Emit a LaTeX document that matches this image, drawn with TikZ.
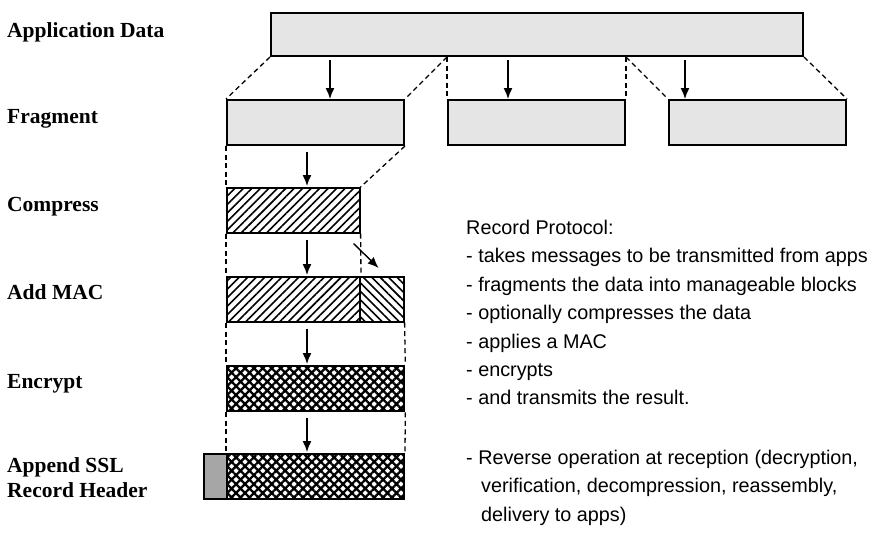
\documentclass[tikz,border=0pt]{standalone}
\usepackage{fontspec}
\setmainfont{Liberation Serif}
\newfontfamily\notefont{Liberation Sans}
\usetikzlibrary{arrows.meta,patterns.meta}

\begin{document}
\begin{tikzpicture}[x=1pt,y=-1pt,
    blk/.style={draw, line width=2pt, inner sep=0pt, anchor=north west, minimum height=45pt},
    plainblk/.style={blk, fill=black!10},
    cut/.style={dash pattern=on 5pt off 3.5pt, line width=1.3pt},
    arr/.style={-{Latex[length=11pt,width=9pt]}, line width=1.4pt},
    lbl/.style={anchor=base west, inner sep=0pt, align=left,
      font=\fontsize{21.5}{25}\selectfont\bfseries},
    note/.style={anchor=north west, inner sep=0pt, align=left,
      font=\notefont\fontsize{19.8}{28.4}\selectfont}]
  \useasboundingbox (0,0) rectangle (881,542);
  \def\Xs{307}; % spine of arrows

  % application data and fragments
  \node[plainblk, minimum width=532pt, minimum height=43pt] (app) at (270,12) {};
  \node[plainblk, minimum width=177pt] (frag1) at (226,99) {};
  \node[plainblk, minimum width=177pt] (frag2) at (447,99) {};
  \node[plainblk, minimum width=177pt] (frag3) at (668,99) {};

  % compressed, MAC, encrypted, record
  \node[blk, minimum width=133pt, pattern={Lines[angle=45,distance=6pt,line width=1.6pt]}] (comp) at (226,187) {};
  \node[blk, minimum width=133pt, pattern={Lines[angle=45,distance=6pt,line width=1.6pt]}] (mac1) at (226,276) {};
  \node[blk, minimum width=44pt, pattern={Lines[angle=-45,distance=6pt,line width=1.6pt]}] (mac2) at (359,276) {};
  \node[blk, minimum width=177pt, pattern={Hatch[angle=45,distance=6.3pt,line width=2.3pt]}] (enc) at (226,365) {};
  \node[blk, minimum width=23pt, fill=black!35] (hdr) at (203,453) {};
  \node[blk, minimum width=177pt, pattern={Hatch[angle=45,distance=6.3pt,line width=2.3pt]}] (rec) at (226,453) {};

  % dashed guides
  \draw[cut] (app.south west) -- (frag1.north west);
  \draw[cut] (frag2.north west |- app.south) -- (frag1.north east);
  \draw[cut] (frag2.north west |- app.south) -- (frag2.north west);
  \draw[cut] (frag2.north east |- app.south) -- (frag2.north east);
  \draw[cut] (frag2.north east |- app.south) -- (frag3.north west);
  \draw[cut] (app.south east) -- (frag3.north east);
  \draw[cut] (frag1.south west) -- (comp.north west);
  \draw[cut] (frag1.south east) -- (comp.north east);
  \draw[cut] (comp.south west) -- (mac1.north west);
  \draw[cut] (comp.south east) -- (mac1.north east);
  \draw[cut] (mac1.south west) -- (enc.north west);
  \draw[cut] (mac2.south east) -- (enc.north east);
  \draw[cut] (enc.south west) -- (rec.north west);
  \draw[cut] (enc.south east) -- (rec.north east);

  % arrows
  \foreach \n/\x in {1/330,2/508,3/685} {
    \coordinate (s\n) at (\x,60);
    \draw[arr] (s\n) -- (s\n |- frag\n.north);
  }
  \coordinate (spine) at (\Xs,0);
  \draw[arr] ([yshift=-6pt]frag1.south -| spine) -- ([yshift=1pt]comp.north -| spine);
  \draw[arr] ([yshift=-6pt]comp.south -| spine) -- ([yshift=1pt]mac1.north -| spine);
  \draw[arr] ([yshift=-6pt]mac1.south -| spine) -- ([yshift=1pt]enc.north -| spine);
  \draw[arr] ([yshift=-6pt]enc.south -| spine) -- ([yshift=1pt]rec.north -| spine);
  \draw[arr] ([xshift=-7pt,yshift=-10pt]comp.south east) -- ([xshift=-26pt,yshift=8pt]mac2.north east);

  % row labels
  \node[lbl] (lapp) at (7,37) {Application Data};
  \node[lbl] (lfrag) at (7,123) {Fragment};
  \node[lbl] (lcomp) at (7,211) {Compress};
  \node[lbl] (lmac) at (7,299) {Add MAC};
  \node[lbl] (lenc) at (7,388) {Encrypt};
  \node[lbl] (lhdr) at (7,497) {Append SSL\\Record Header};

  % notes
  \node[note] (proto) at (466,220) {Record Protocol:\\
    - takes messages to be transmitted from apps\\
    - fragments the data into manageable blocks\\
    - optionally compresses the data\\
    - applies a MAC\\
    - encrypts\\
    - and transmits the result.};
  \node[note] (rev) at (466,450) {- Reverse operation at reception (decryption,\\
    \hspace*{15pt}verification, decompression, reassembly,\\
    \hspace*{15pt}delivery to apps)};
\end{tikzpicture}
\end{document}
